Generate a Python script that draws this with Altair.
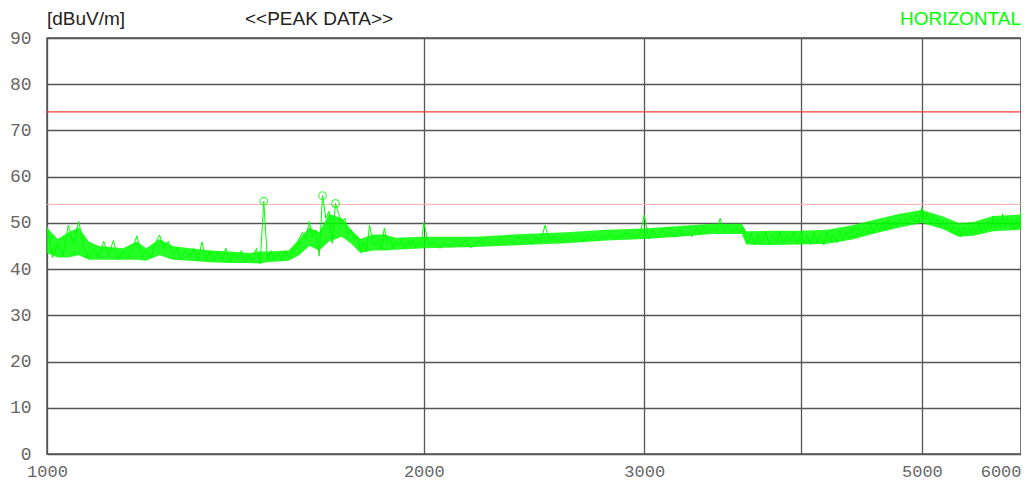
import altair as alt
import pandas as pd

# ---- sweep data (frequency in MHz, level in dBuV/m) ----
seg1_freqs = list(range(1000, 2001, 10))
seg1_levels = [
    49.2, 42.5, 45.5, 43.0, 49.5, 45.5, 50.3, 45.0, 42.5, 44.5,
    42.5, 46.0, 43.0, 46.2, 42.0, 44.0, 42.3, 44.5, 47.2, 42.5,
    44.0, 42.5, 45.5, 47.4, 44.5, 46.0, 43.0, 44.5, 42.0, 44.0,
    42.5, 44.5, 42.0, 45.9, 42.0, 44.0, 41.8, 43.8, 42.0, 44.5,
    41.5, 43.5, 42.0, 44.0, 41.5, 43.0, 41.8, 44.5, 41.2, 54.7,
    42.0, 44.0, 42.0, 43.5, 42.0, 44.0, 42.5, 44.5, 44.0, 46.5,
    48.0, 46.5, 50.3, 47.0, 48.5, 42.8, 55.9, 51.0, 52.5, 45.6,
    54.2, 52.0, 50.0, 51.0, 47.5, 48.5, 46.5, 47.0, 44.0, 46.0,
    43.8, 49.5, 46.0, 45.0, 46.3, 44.5, 48.9, 45.5, 46.5, 44.5,
    46.0, 45.0, 46.5, 44.5, 46.0, 45.0, 46.5, 44.5, 46.0, 45.0,
    50.0,
]
seg2_freqs = list(range(2020, 3001, 20))
seg2_levels = [
    45.0, 46.0, 44.5, 45.8, 44.8, 46.2, 45.0, 46.3, 44.6, 45.5,
    46.5, 45.0, 46.2, 45.3, 46.8, 45.2, 46.4, 45.5, 47.0, 45.6,
    46.6, 45.4, 47.0, 45.8, 49.5, 46.0, 47.2, 45.8, 47.0, 46.0,
    47.5, 46.2, 47.0, 45.9, 47.3, 46.4, 47.6, 46.2, 47.2, 46.5,
    47.8, 46.4, 47.4, 46.8, 48.0, 46.6, 47.5, 46.8, 48.0, 51.7,
]
seg3_freqs = list(range(3025, 6001, 25))
seg3_levels = [
    46.5, 48.3, 46.8, 48.5, 47.2, 48.0, 46.9, 48.6, 47.4, 48.2,
    47.0, 48.8, 47.6, 49.4, 47.8, 49.0, 48.0, 51.0, 48.2, 49.5,
    47.9, 49.2, 48.0, 48.8, 45.5, 47.8, 45.2, 47.5, 45.6, 48.0,
    45.3, 47.6, 45.8, 48.2, 45.5, 47.4, 46.0, 48.0, 45.4, 47.8,
    45.6, 47.2, 45.3, 47.9, 45.8, 47.5, 45.2, 48.0, 46.0, 47.6,
    45.7, 48.4, 46.2, 48.0, 46.6, 48.8, 46.9, 49.2, 47.2, 49.0,
    47.6, 49.8, 47.8, 50.0, 48.2, 50.3, 48.5, 50.6, 48.8, 50.5,
    49.2, 51.0, 49.5, 51.2, 49.8, 51.6, 50.0, 52.0, 50.2, 53.4,
    50.6, 52.2, 50.0, 51.6, 49.8, 51.0, 49.2, 50.6, 48.6, 50.0,
    48.0, 49.4, 47.3, 49.0, 47.0, 49.2, 47.4, 49.0, 47.6, 49.4,
    47.8, 49.6, 48.0, 50.0, 48.2, 50.4, 48.5, 51.5, 48.6, 50.8,
    49.0, 52.0, 48.8, 51.2, 49.2, 50.6, 48.6, 51.0, 49.0, 52.5,
]

# noise envelope of the trace
env_freqs = [1000, 1020, 1040, 1060, 1080, 1100, 1150, 1180, 1200, 1230,
             1260, 1300, 1350, 1400, 1450, 1480, 1500, 1560, 1590, 1620,
             1650, 1680, 1720, 1750, 1780, 1820, 1860, 1900, 2000, 2200,
             2400, 2600, 2800, 3000, 3200, 3400, 3590, 3620, 3800, 4000,
             4200, 4400, 4600, 4800, 5000, 5200, 5350, 5500, 5700, 6000]
env_low = [43.5, 42.5, 42.5, 43.0, 42.0, 42.0, 42.0, 42.0, 41.8, 43.0,
           42.0, 41.8, 41.5, 41.3, 41.3, 41.2, 41.5, 41.8, 43.0, 45.0,
           44.0, 46.0, 47.0, 45.5, 43.5, 44.0, 44.0, 44.2, 44.5, 44.8,
           45.2, 45.6, 46.2, 46.5, 47.0, 47.6, 47.6, 45.3, 45.2, 45.3,
           45.5, 46.4, 47.8, 49.0, 50.0, 48.6, 47.0, 47.2, 48.2, 48.5]
env_high = [49.0, 46.5, 48.0, 49.0, 46.0, 45.0, 44.5, 46.0, 44.5, 46.5,
            45.0, 44.5, 44.0, 43.8, 43.5, 43.8, 43.8, 44.0, 46.5, 49.0,
            48.0, 52.0, 51.0, 48.5, 46.5, 47.5, 47.5, 46.8, 47.0, 47.0,
            47.6, 48.0, 48.5, 48.8, 49.3, 49.8, 49.8, 48.2, 48.3, 48.3,
            48.5, 49.5, 50.8, 52.0, 52.8, 51.4, 50.0, 50.2, 51.5, 51.8]

peak_freqs = [1490, 1660, 1700]
peak_levels = [54.7, 55.9, 54.2]

limit_levels = [74]
margin_levels = [54]

x_ticks = [1000, 2000, 3000, 4000, 5000, 6000]
y_ticks = [0, 10, 20, 30, 40, 50, 60, 70, 80, 90]

GREEN = "#00ff00"
GRID = "#555555"

trace_df = pd.DataFrame({
    "freq": seg1_freqs + seg2_freqs + seg3_freqs,
    "level": seg1_levels + seg2_levels + seg3_levels,
})
env_df = pd.DataFrame({"freq": env_freqs, "level": env_low, "high": env_high})
peak_df = pd.DataFrame({"freq": peak_freqs, "level": peak_levels})
limit_df = pd.DataFrame({"level": limit_levels})
margin_df = pd.DataFrame({"level": margin_levels})

xscale = alt.Scale(type="log", domain=[1000, 6000])
yscale = alt.Scale(domain=[0, 90], nice=False, zero=True)

xaxis = alt.Axis(
    values=x_ticks, format="d", title=None, grid=True, gridColor=GRID,
    gridWidth=1.3, gridOpacity=1, ticks=False, domain=False,
    labelFont="Liberation Mono", labelFontSize=17, labelColor="#666666",
    labelPadding=9, labelOverlap=False,
    labelExpr="datum.value == 4000 ? '' : datum.label",
    labelAlign={"expr": "datum.value >= 6000 ? 'right' : 'center'"},
)
yaxis = alt.Axis(
    values=y_ticks, title=None, grid=True, gridColor=GRID, gridWidth=1.3,
    gridOpacity=1, ticks=False, domain=False,
    labelFont="Liberation Mono", labelFontSize=18, labelColor="#666666",
    labelPadding=16,
)

X = alt.X("freq:Q", scale=xscale, axis=xaxis)
Y = alt.Y("level:Q", scale=yscale, axis=yaxis)

band = alt.Chart(env_df).mark_area(
    color=GREEN, opacity=0.85, clip=True
).encode(x=X, y=Y, y2="high:Q")

trace = alt.Chart(trace_df).mark_line(
    color=GREEN, strokeWidth=1, clip=True
).encode(x=X, y=Y)

limit = alt.Chart(limit_df).mark_rule(color="#ff3b3b", strokeWidth=1.3).encode(y=Y)
margin = alt.Chart(margin_df).mark_rule(color="#ffb0b0", strokeWidth=1).encode(y=Y)

peaks = alt.Chart(peak_df).mark_point(
    shape="circle", filled=False, color=GREEN, size=60, strokeWidth=1.2
).encode(x=X, y=Y)

title_df = pd.DataFrame({"t": ["x"]})
unit_txt = alt.Chart(title_df).mark_text(
    text="[dBuV/m]", align="left", baseline="alphabetic",
    font="Liberation Sans", fontSize=19, color="#222222"
).encode(x=alt.value(0), y=alt.value(-13))
peak_txt = alt.Chart(title_df).mark_text(
    text="<<PEAK DATA>>", align="left", baseline="alphabetic",
    font="Liberation Sans", fontSize=19, color="#222222"
).encode(x=alt.value(198), y=alt.value(-13))
pol_txt = alt.Chart(title_df).mark_text(
    text="HORIZONTAL", align="right", baseline="alphabetic",
    font="Liberation Sans", fontSize=19, color=GREEN
).encode(x=alt.value(974), y=alt.value(-13))

chart = alt.layer(
    margin, limit, band, trace, peaks, unit_txt, peak_txt, pol_txt
).properties(
    width=974, height=416,
    padding={"left": 39, "top": 30, "right": 0, "bottom": 28},
    autosize=alt.AutoSizeParams(type="none"),
    background="white",
).configure_view(
    stroke=GRID, strokeWidth=1.5
)

chart.save("out.html", embed_options={"renderer": "svg", "actions": False})
